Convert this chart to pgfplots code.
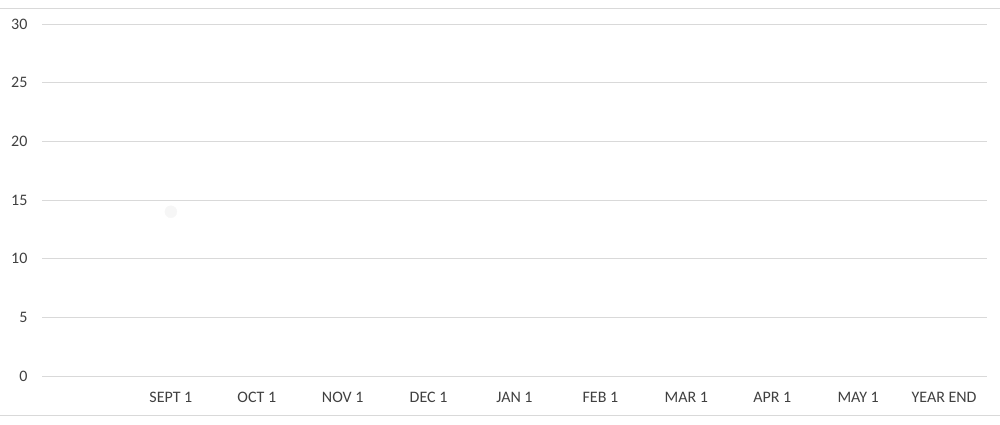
\documentclass[border=0pt]{standalone}
\usepackage{pgfplots}
\pgfplotsset{compat=1.18}
\usepackage{fontspec}
\setmainfont{Carlito}
\definecolor{gridc}{HTML}{D9D9D9}
\definecolor{txt}{HTML}{404040}
\definecolor{ptc}{HTML}{F6F6F6}
\begin{document}
\begin{tikzpicture}
\path[use as bounding box] (0,0) rectangle (1000pt,424pt);
\draw[gridc, line width=0.8pt] (0,416pt) -- (1000pt,416pt);
\draw[gridc, line width=0.8pt] (0,9pt) -- (1000pt,9pt);
\begin{axis}[
  at={(42pt,48pt)}, anchor=south west,
  scale only axis, width=945pt, height=352pt,
  xmin=-0.5, xmax=10.5, ymin=0, ymax=30,
  xtick={1,2,3,4,5,6,7,8,9,10},
  xticklabels={SEPT 1,OCT 1,NOV 1,DEC 1,JAN 1,FEB 1,MAR 1,APR 1,MAY 1,YEAR END},
  ytick={0,5,10,15,20,25,30},
  axis line style={draw=none},
  major tick length=0pt,
  ymajorgrids, grid style={gridc, line width=0.8pt},
  tick label style={font=\fontsize{16}{18}\selectfont, text=txt},
  /pgf/number format/assume math mode=true,
  yticklabel style={anchor=east, xshift=-11pt},
  xticklabel style={anchor=north, yshift=-13pt},
  clip=false,
]
\addplot[only marks, mark=*, mark size=6pt, mark options={draw=ptc, fill=ptc}] coordinates {(1,14)};
\end{axis}
\end{tikzpicture}
\end{document}
